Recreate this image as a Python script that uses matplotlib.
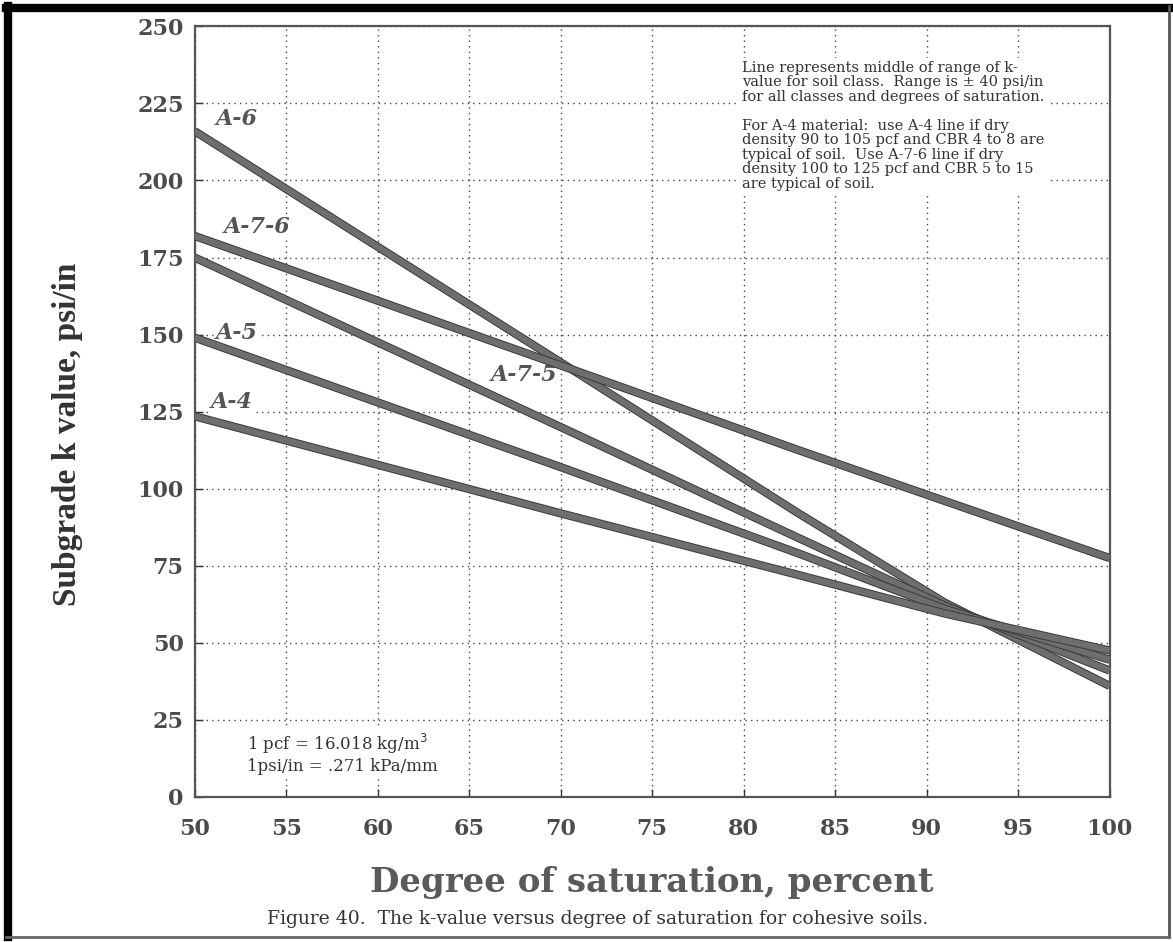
import numpy as np
import matplotlib
matplotlib.use("Agg")
import matplotlib.pyplot as plt
import matplotlib.patheffects as pe
from matplotlib.lines import Line2D

# k-value (psi/in) at a few saturation levels
soil_classes = ["A-6", "A-7-6", "A-7-5", "A-5", "A-4"]
saturation = [50, 70, 83, 91, 100]
k_values = {
    "A-6":   [216, 141, 92, 63, 36],
    "A-7-6": [182, 140, 112.5, 96, 77.5],
    "A-7-5": [175, 120, 84, 62, 41],
    "A-5":   [149, 107, 79, 61, 44.5],
    "A-4":   [123.5, 92, 72, 59.5, 47.5],
}

# label anchor (saturation, k) for each class
label_x = [52.3, 53.4, 68.0, 52.3, 52.0]
label_y = [220, 185, 137, 150.5, 128]

x_ticks = list(range(50, 101, 5))
y_ticks = list(range(0, 251, 25))

note_text = ("Line represents middle of range of k-\n"
             "value for soil class.  Range is \u00b1 40 psi/in\n"
             "for all classes and degrees of saturation.\n"
             "\n"
             "For A-4 material:  use A-4 line if dry\n"
             "density 90 to 105 pcf and CBR 4 to 8 are\n"
             "typical of soil.  Use A-7-6 line if dry\n"
             "density 100 to 125 pcf and CBR 5 to 15\n"
             "are typical of soil.")
units_text = "1 pcf = 16.018 kg/m$^3$\n1psi/in = .271 kPa/mm"

serif = "Liberation Serif"
wide = "DejaVu Serif"

fig = plt.figure(figsize=(11.73, 9.42), dpi=100)
ax = fig.add_axes([0.166, 0.154, 0.780, 0.818])

for name in soil_classes:
    ax.plot(saturation, k_values[name], color="#6e6e6e", lw=4.6, solid_capstyle="butt",
            solid_joinstyle="round", zorder=3,
            path_effects=[pe.Stroke(linewidth=6.0, foreground="#3a3a3a"), pe.Normal()])

for name, lx, ly in zip(soil_classes, label_x, label_y):
    ax.text(lx, ly, name, fontsize=16, style="italic", fontweight="bold", family=wide,
            color="#555555", ha="center", va="center", zorder=2,
            bbox=dict(facecolor="white", edgecolor="none", pad=0.5))

ax.set_xlim(50, 100)
ax.set_ylim(0, 250)
ax.set_xticks(x_ticks)
ax.set_yticks(y_ticks)
ax.grid(True, linestyle=(0, (1, 3)), color="#444444", linewidth=1.0, zorder=1)
ax.set_axisbelow(True)
ax.tick_params(direction="in", length=6, width=1, colors="#333333")
ax.tick_params(axis="x", pad=15)
ax.tick_params(axis="y", pad=8)
for lab in ax.get_xticklabels() + ax.get_yticklabels():
    lab.set_fontfamily(wide)
    lab.set_fontweight("bold")
    lab.set_fontsize(16)
    lab.set_color("#4a4a4a")
for sp in ax.spines.values():
    sp.set_color("#555555")
    sp.set_linewidth(1.6)

ax.set_xlabel("Degree of saturation, percent", family=wide, fontweight="bold",
              fontsize=24.5, color="#5a5a5a")
ax.xaxis.set_label_coords(0.5, -0.09)
ax.set_ylabel("Subgrade k value, psi/in", family=serif, fontweight="bold",
              fontsize=24, color="#333333")
ax.yaxis.set_label_coords(-0.122, 0.47)

ax.text(0.598, 0.955, note_text, transform=ax.transAxes, fontsize=10.5, family=wide,
        color="#333333", va="top", ha="left", linespacing=1.04, zorder=5,
        bbox=dict(facecolor="white", edgecolor="none", pad=2))
ax.text(0.057, 0.056, units_text, transform=ax.transAxes, fontsize=12, family=wide,
        color="#333333", va="center", ha="left", linespacing=1.15, zorder=5,
        bbox=dict(facecolor="white", edgecolor="none", pad=2))

fig.text(0.228, 0.024, "Figure 40.  The k-value versus degree of saturation for cohesive soils.",
         fontsize=13.5, family=wide, color="#333333", ha="left", va="center")

# page frame of the scanned figure
fig.add_artist(Line2D([0.005, 0.997], [0.991, 0.991], color="black", lw=6, transform=fig.transFigure))
fig.add_artist(Line2D([0.007, 0.007], [0.005, 0.994], color="black", lw=6, transform=fig.transFigure))
fig.add_artist(Line2D([0.997, 0.997], [0.005, 0.994], color="#555555", lw=2, transform=fig.transFigure))
fig.add_artist(Line2D([0.005, 0.997], [0.005, 0.005], color="#666666", lw=2, transform=fig.transFigure))

fig.savefig("out.png", dpi=100)
